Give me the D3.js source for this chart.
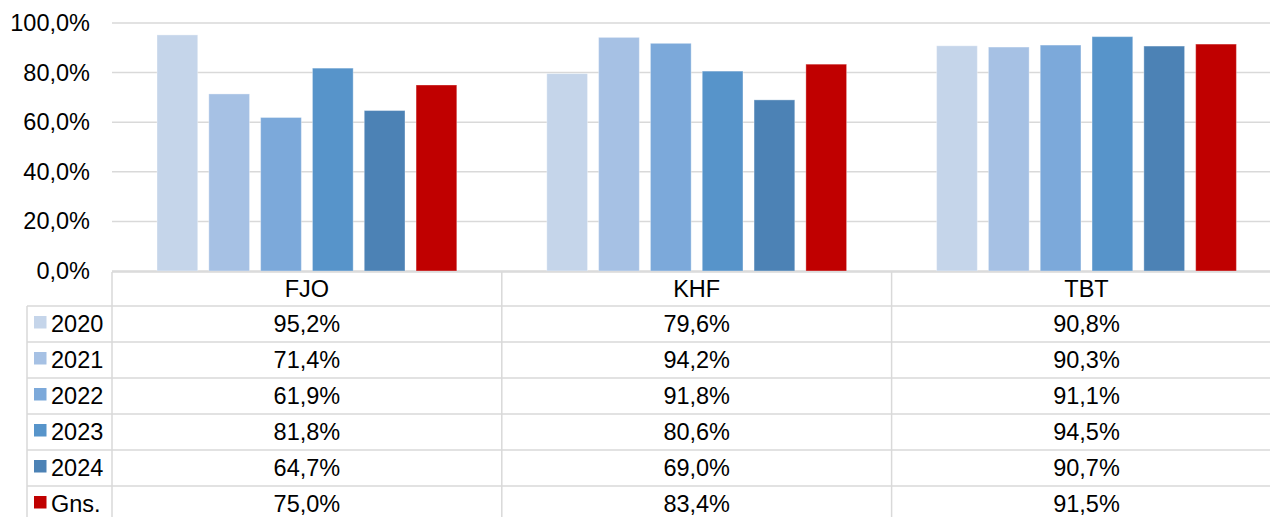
<!DOCTYPE html>
<html>
<head>
<meta charset="utf-8">
<script src="https://cdn.jsdelivr.net/npm/d3@7"></script>
<style>
  html, body { margin: 0; padding: 0; background: #fff; overflow: hidden; }
  svg { display: block; font-family: 'Liberation Sans', Arial, sans-serif; }
</style>
</head>
<body>
<div id="canvas"></div>
<script>
const categories = ['FJO', 'KHF', 'TBT'];
const seriesNames = ['2020', '2021', '2022', '2023', '2024', 'Gns.'];
const seriesColors = ['#C5D5EA', '#A6C1E4', '#7CA9DA', '#5794CA', '#4C82B5', '#C00000'];
const v2020 = [95.2, 79.6, 90.8];
const v2021 = [71.4, 94.2, 90.3];
const v2022 = [61.9, 91.8, 91.1];
const v2023 = [81.8, 80.6, 94.5];
const v2024 = [64.7, 69.0, 90.7];
const vGns = [75.0, 83.4, 91.5];
const yTicks = [0, 20, 40, 60, 80, 100];

const seriesValues = [v2020, v2021, v2022, v2023, v2024, vGns];

const w = 1270;
const h = 517;
const plotLeft = 112;
const catWidth = 389.8;
const plotTop = 23;
const plotBottom = 271;
const tableTop = 272;
const headerH = 34;
const rowH = 36;
const legendLeft = 27;
const fontSize = 23.5;

const fmt = v => d3.format('.1f')(v).replace('.', ',') + '%';

const svg = d3.select('#canvas')
  .append('svg')
  .attr('width', w)
  .attr('height', h);

const xScale = d3.scaleBand()
  .domain(categories)
  .range([plotLeft, plotLeft + catWidth * categories.length])
  .padding(0);

const xInner = d3.scaleBand()
  .domain(seriesNames)
  .range([45, catWidth - 45])
  .paddingInner(0.214)
  .paddingOuter(0);

const yScale = d3.scaleLinear()
  .domain([0, 100])
  .range([plotBottom, plotTop]);

// gridlines
svg.append('g')
  .selectAll('line')
  .data(yTicks)
  .enter()
  .append('line')
  .attr('x1', plotLeft)
  .attr('x2', w)
  .attr('y1', d => yScale(d))
  .attr('y2', d => yScale(d))
  .attr('stroke', '#D9D9D9')
  .attr('stroke-width', 1.5);

// y axis labels
const yAxis = d3.axisLeft(yScale)
  .tickValues(yTicks)
  .tickSize(0)
  .tickPadding(0)
  .tickFormat(d => fmt(d));

const yg = svg.append('g')
  .attr('transform', 'translate(90, 0)')
  .call(yAxis);
yg.select('.domain').remove();
yg.selectAll('text')
  .attr('font-size', fontSize)
  .attr('font-family', "'Liberation Sans', Arial, sans-serif")
  .attr('fill', '#000');

// bars
seriesNames.forEach((s, si) => {
  svg.append('g')
    .selectAll('rect')
    .data(categories.map((c, ci) => ({ c: c, v: seriesValues[si][ci] })))
    .enter()
    .append('rect')
    .attr('x', d => xScale(d.c) + xInner(s))
    .attr('width', xInner.bandwidth())
    .attr('y', d => yScale(d.v))
    .attr('height', d => plotBottom - yScale(d.v))
    .attr('fill', seriesColors[si])
    .attr('stroke', '#fff')
    .attr('stroke-opacity', 0.35)
    .attr('stroke-width', 1);
});

// data table
const table = svg.append('g');
const tableRight = plotLeft + catWidth * categories.length;
const rowsTop = tableTop + headerH;

// horizontal lines
table.append('line')
  .attr('x1', plotLeft).attr('x2', tableRight)
  .attr('y1', tableTop).attr('y2', tableTop)
  .attr('stroke', '#D9D9D9').attr('stroke-width', 1.5);

d3.range(seriesNames.length + 1).forEach(i => {
  table.append('line')
    .attr('x1', legendLeft).attr('x2', tableRight)
    .attr('y1', rowsTop + i * rowH).attr('y2', rowsTop + i * rowH)
    .attr('stroke', '#D9D9D9').attr('stroke-width', 1.5);
});

// vertical lines
table.append('line')
  .attr('x1', legendLeft).attr('x2', legendLeft)
  .attr('y1', rowsTop).attr('y2', h)
  .attr('stroke', '#D9D9D9').attr('stroke-width', 1.5);

d3.range(categories.length + 1).forEach(i => {
  const x = plotLeft + i * catWidth;
  table.append('line')
    .attr('x1', x).attr('x2', x)
    .attr('y1', tableTop).attr('y2', h)
    .attr('stroke', '#D9D9D9').attr('stroke-width', 1.5);
});

// header
table.selectAll('.hdr')
  .data(categories)
  .enter()
  .append('text')
  .attr('class', 'hdr')
  .attr('x', d => xScale(d) + xScale.bandwidth() / 2)
  .attr('y', tableTop + headerH / 2)
  .attr('dy', '0.35em')
  .attr('text-anchor', 'middle')
  .attr('font-size', fontSize)
  .text(d => d);

// rows
seriesNames.forEach((s, si) => {
  const cy = rowsTop + si * rowH + rowH / 2;
  table.append('rect')
    .attr('x', 34)
    .attr('y', cy - 8)
    .attr('width', 12.5)
    .attr('height', 12.5)
    .attr('fill', seriesColors[si]);
  table.append('text')
    .attr('x', 51)
    .attr('y', cy)
    .attr('dy', '0.35em')
    .attr('font-size', fontSize)
    .text(s);
  table.selectAll('.val' + si)
    .data(categories.map((c, ci) => ({ c: c, v: seriesValues[si][ci] })))
    .enter()
    .append('text')
    .attr('x', d => xScale(d.c) + xScale.bandwidth() / 2)
    .attr('y', cy)
    .attr('dy', '0.35em')
    .attr('text-anchor', 'middle')
    .attr('font-size', fontSize)
    .text(d => fmt(d.v));
});
</script>
</body>
</html>
